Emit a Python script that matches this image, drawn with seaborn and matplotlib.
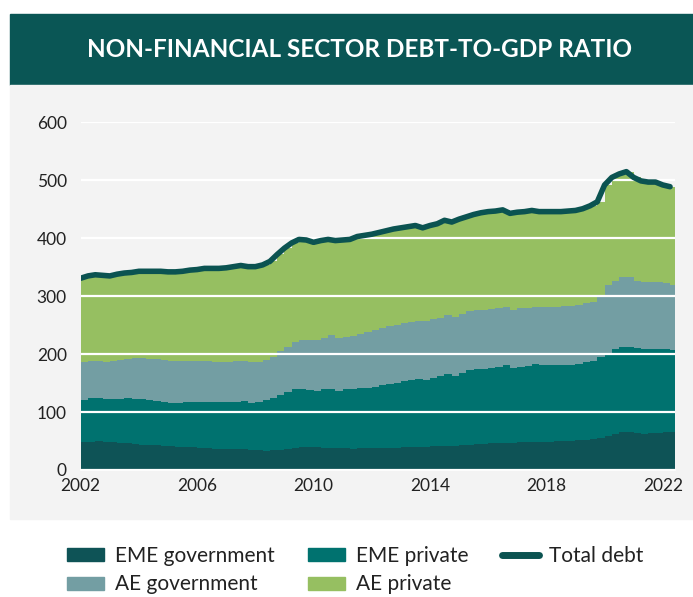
import numpy as np
import pandas as pd
import matplotlib
matplotlib.use("Agg")
import matplotlib.pyplot as plt
import seaborn as sns
from matplotlib.patches import Rectangle, Patch
from matplotlib.lines import Line2D

# Quarterly debt-to-GDP ratios (% of GDP), 2002Q1 - 2022Q2
eme_government = [
    48, 49, 50, 49, 48, 47, 46, 45, 44, 44, 43, 42, 41, 40, 39, 39,
    38, 38, 37, 37, 36, 36, 36, 35, 34, 33, 34, 35, 36, 38, 39, 40,
    39, 38, 38, 38, 38, 37, 38, 38, 38, 38, 38, 38, 39, 39, 40, 40,
    41, 41, 41, 42, 43, 44, 45, 45, 46, 46, 47, 47, 48, 48, 49, 49,
    49, 50, 50, 50, 51, 52, 53, 55, 59, 62, 65, 65, 64, 63, 64, 64,
    65, 65,
]
eme_private = [
    72, 75, 74, 74, 74, 76, 78, 78, 78, 76, 76, 76, 74, 75, 78, 79,
    79, 79, 80, 81, 81, 82, 83, 81, 83, 87, 90, 95, 99, 101, 100, 98,
    97, 101, 102, 99, 101, 103, 103, 103, 105, 108, 111, 113, 114, 116, 117, 116,
    117, 121, 125, 121, 125, 128, 130, 130, 130, 132, 134, 129, 130, 132, 134, 132,
    132, 131, 132, 132, 132, 134, 136, 140, 143, 147, 148, 148, 146, 146, 144, 144,
    143, 142,
]
ae_government = [
    66, 65, 64, 64, 66, 67, 67, 70, 71, 72, 72, 72, 73, 73, 72, 70,
    71, 71, 70, 69, 69, 70, 70, 70, 69, 70, 71, 75, 78, 82, 86, 86,
    88, 89, 93, 91, 91, 92, 94, 97, 98, 99, 100, 100, 100, 100, 101, 102,
    102, 101, 101, 101, 101, 102, 101, 102, 102, 101, 101, 101, 101, 100, 99, 100,
    100, 101, 101, 101, 101, 102, 101, 103, 117, 118, 120, 120, 116, 116, 116, 116,
    114, 113,
]
ae_private = [
    145, 146, 149, 149, 147, 148, 149, 148, 150, 151, 152, 153, 154, 154, 154, 157,
    158, 160, 161, 161, 163, 163, 164, 165, 165, 164, 165, 167, 170, 171, 173, 173,
    169, 168, 165, 168, 167, 166, 168, 167, 166, 165, 164, 165, 165, 165, 164, 160,
    162, 162, 164, 164, 164, 163, 165, 167, 168, 168, 167, 166, 166, 166, 166, 165,
    165, 164, 163, 164, 164, 163, 166, 165, 173, 178, 178, 182, 179, 174, 173, 173,
    170, 169,
]

series_names = ["EME government", "EME private", "AE government", "AE private"]
series_colors = ["#0e5356", "#00726f", "#739ea3", "#96bf61"]
total_color = "#0b5351"
title_text = "NON-FINANCIAL SECTOR DEBT-TO-GDP RATIO"
x_labels = [2002, 2006, 2010, 2014, 2018, 2022]
x_minor = [2004, 2008, 2012, 2016, 2020]
y_labels = [0, 100, 200, 300, 400, 500, 600]

first_year = 2002
x_end = 2022.42

df = pd.DataFrame({name: vals for name, vals in zip(
    series_names, [eme_government, eme_private, ae_government, ae_private])})
df["date"] = first_year + np.arange(len(df)) / 4
df["Total debt"] = df[series_names].sum(axis=1)

sns.set_theme(style="white")
plt.rcParams["font.family"] = ["Lato", "DejaVu Sans"]

W, H = 693, 597
fig = plt.figure(figsize=(W / 100, H / 100), dpi=100)
fig.patch.set_facecolor("white")

# title banner and grey chart panel
fig.patches.append(Rectangle((10 / W, 1 - 85 / H), 1 - 10 / W, 71 / H,
                             transform=fig.transFigure, color="#0a5655", zorder=-2))
fig.patches.append(Rectangle((10 / W, 1 - 519 / H), 1 - 10 / W, 434 / H,
                             transform=fig.transFigure, color="#f3f3f3", zorder=-2))
fig.text(360 / W, 1 - 49.5 / H, title_text, color="white", fontsize=17.5,
         fontweight="bold", ha="center", va="center")

ax = fig.add_axes([80.7 / W, 1 - 470 / H, (675 - 80.7) / W, (470 - 122.4) / H])
ax.set_zorder(2)
ax.set_facecolor("#f3f3f3")

# stacked quarterly steps
edges = np.append(df["date"].to_numpy(), x_end)
base = np.zeros(len(edges))
for name, color in zip(series_names, series_colors):
    vals = df[name].to_numpy(dtype=float)
    top = base + np.append(vals, vals[-1])
    ax.fill_between(edges, base, top, step="post", color=color, linewidth=0, zorder=1)
    base = top

sns.lineplot(data=df, x="date", y="Total debt", ax=ax, color=total_color,
             linewidth=4, zorder=4, solid_capstyle="round")

ax.set_xlim(first_year, x_end)
ax.set_ylim(0, 600)
ax.set_axisbelow(False)
ax.set_yticks(y_labels)
ax.set_xticks(x_labels)
ax.set_xticks(x_minor, minor=True)
ax.grid(axis="y", color="white", linewidth=1.6, zorder=2.5)
ax.grid(axis="x", visible=False)
for s in ["top", "right", "left"]:
    ax.spines[s].set_visible(False)
ax.spines["bottom"].set_color("white")
ax.spines["bottom"].set_linewidth(1.2)
ax.tick_params(axis="x", which="both", direction="in", color="white", length=5,
               width=1.2, pad=6, labelsize=12.5, labelcolor="#222222")
ax.tick_params(axis="y", length=0, pad=10, labelsize=12.5, labelcolor="#222222")
ax.set_xlabel("")
ax.set_ylabel("")

handles = [Patch(color=series_colors[0]), Patch(color=series_colors[2]),
           Patch(color=series_colors[1]), Patch(color=series_colors[3]),
           Line2D([0], [0], color=total_color, linewidth=5, solid_capstyle="round")]
labels = [series_names[0], series_names[2], series_names[1], series_names[3], "Total debt"]
fig.legend(handles, labels, ncol=3, loc="upper left",
           bbox_to_anchor=(48 / W, 1 - 527 / H), frameon=False, fontsize=15,
           handlelength=1.8, handleheight=0.6, handletextpad=0.5,
           columnspacing=1.6, labelspacing=0.42, labelcolor="#222222")

fig.savefig("out.png", dpi=100, facecolor="white")
